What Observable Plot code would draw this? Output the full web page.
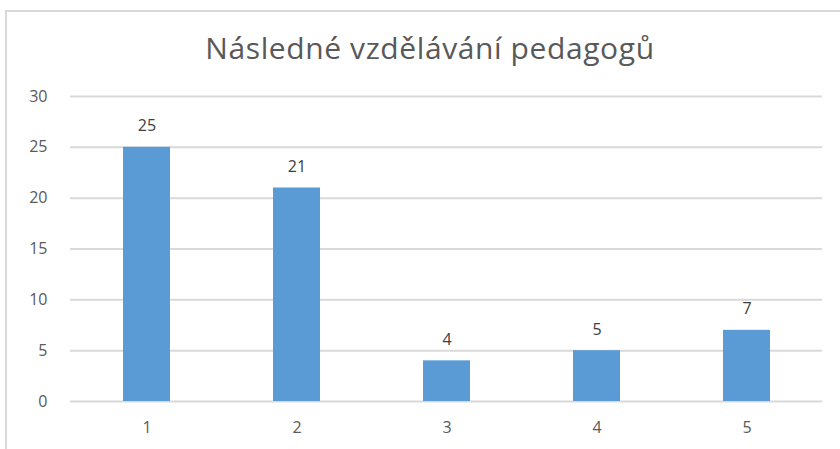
<!DOCTYPE html>
<html><head><meta charset="utf-8">
<script src="https://cdn.jsdelivr.net/npm/d3@7"></script>
<script src="https://cdn.jsdelivr.net/npm/@observablehq/plot@0.6"></script>
<style>
html,body{margin:0;padding:0;background:#fff;overflow:hidden;}
#wrap{position:relative;width:840px;height:449px;}
#frame{position:absolute;left:5px;top:10px;width:850px;height:460px;border:2px solid #d9d9d9;box-sizing:border-box;}
#title{position:absolute;left:0;top:27px;width:860px;text-align:center;font-family:"Open Sans",sans-serif;font-size:30px;letter-spacing:0.6px;color:#595959;}
#chart{position:absolute;left:0;top:0;}
</style></head>
<body>
<div id="wrap"><div id="frame"></div><div id="title">Následné vzdělávání pedagogů</div><div id="chart"></div></div>
<script>
const categories = ["1","2","3","4","5"];
const values = [25, 21, 4, 5, 7];
const yTicks = [0,5,10,15,20,25,30];
const data = categories.map((c,i)=>({cat:c, value:values[i]}));
const chart = Plot.plot({
  width: 840, height: 449,
  marginLeft: 70, marginRight: 18, marginTop: 96, marginBottom: 48,
  style: {fontFamily: "'Open Sans', sans-serif", fontSize: "16px", color: "#595959", background: "transparent"},
  x: {domain: categories, paddingInner: 0.69, paddingOuter: 0.345, label: null, tickSize: 0, tickPadding: 20},
  y: {domain: [0,30], ticks: yTicks, label: null, tickSize: 0, tickPadding: 23, grid: false},
  marks: [
    Plot.gridY(yTicks, {stroke: "#d9d9d9", strokeOpacity: 1, strokeWidth: 2}),
    Plot.barY(data, {x: "cat", y: "value", fill: "#5b9bd5"}),
    Plot.text(data, {x: "cat", y: "value", text: d => String(d.value), dy: -21, fill: "#404040", fontSize: 16})
  ]
});
document.getElementById("chart").appendChild(chart);
</script>
</body></html>
